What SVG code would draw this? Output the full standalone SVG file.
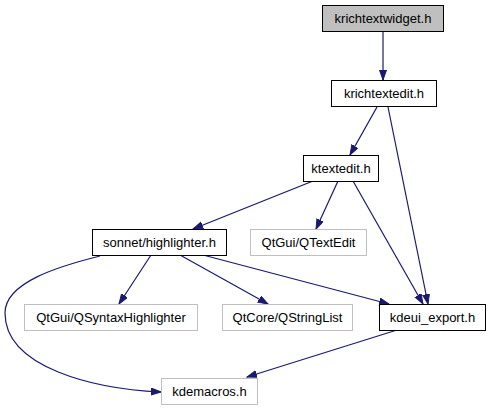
<svg xmlns="http://www.w3.org/2000/svg" width="491" height="411" viewBox="0 0 491 411">
<style>
.n rect{fill:#fff;stroke:#000;stroke-width:1}
.n.ext rect{stroke:#bfbfbf}
.n.focus rect{fill:#bfbfbf}
.n text{font-family:"Liberation Sans",Arial,Helvetica,sans-serif;font-size:13px;fill:#000;text-anchor:middle}
.e path{fill:none;stroke:#191970;stroke-width:1.2}
</style>
<defs>
<marker id="ah" markerUnits="userSpaceOnUse" markerWidth="11" markerHeight="8" refX="10" refY="3.5" orient="auto">
<path d="M0,0 L10,3.5 L0,7 z" fill="#191970" stroke="#191970" stroke-width="1"/>
</marker>
</defs>
<g id="edges" class="e">
<path d="M383,31 L383,80" marker-end="url(#ah)"/>
<path d="M377,107 L350,155" marker-end="url(#ah)"/>
<path d="M388,107 L428,304" marker-end="url(#ah)"/>
<path d="M313,181 L193,229" marker-end="url(#ah)"/>
<path d="M338,181 L316,229" marker-end="url(#ah)"/>
<path d="M353,181 L423,304" marker-end="url(#ah)"/>
<path d="M151,255 L119,304" marker-end="url(#ah)"/>
<path d="M180,255 L268,304" marker-end="url(#ah)"/>
<path d="M203,255 L389,304" marker-end="url(#ah)"/>
<path d="M100,256 C60,266 5,282 5,313 C5,368 95,389 161,392" marker-end="url(#ah)"/>
<path d="M397,330 L247,377" marker-end="url(#ah)"/>
</g>
<g id="krichtextwidget" class="n focus"><rect x="322.5" y="5.5" width="121" height="26"/><text x="383" y="23">krichtextwidget.h</text></g>
<g id="krichtextedit" class="n"><rect x="331.5" y="80.5" width="105" height="26"/><text x="384" y="98">krichtextedit.h</text></g>
<g id="ktextedit" class="n"><rect x="303.5" y="155.5" width="75" height="26"/><text x="341" y="173">ktextedit.h</text></g>
<g id="highlighter" class="n"><rect x="92.5" y="229.5" width="134" height="26"/><text x="159.5" y="247">sonnet/highlighter.h</text></g>
<g id="qtextedit" class="n ext"><rect x="250.5" y="229.5" width="116" height="26"/><text x="308.5" y="247">QtGui/QTextEdit</text></g>
<g id="qsyntaxhighlighter" class="n ext"><rect x="24.5" y="304.5" width="173" height="26"/><text x="111" y="322">QtGui/QSyntaxHighlighter</text></g>
<g id="qstringlist" class="n ext"><rect x="222.5" y="304.5" width="130" height="26"/><text x="287.5" y="322">QtCore/QStringList</text></g>
<g id="kdeui_export" class="n"><rect x="379.5" y="304.5" width="106" height="26"/><text x="432.5" y="322">kdeui_export.h</text></g>
<g id="kdemacros" class="n ext"><rect x="161.5" y="378.5" width="96" height="26"/><text x="209.5" y="396">kdemacros.h</text></g>
</svg>
